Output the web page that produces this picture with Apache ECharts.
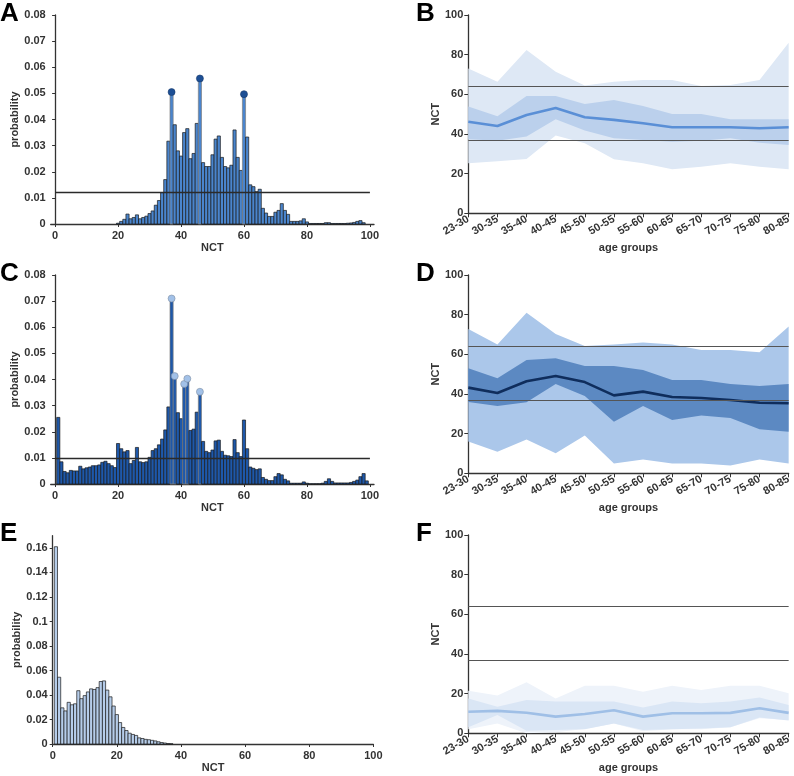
<!DOCTYPE html>
<html>
<head>
<meta charset="utf-8">
<script src="https://cdn.jsdelivr.net/npm/echarts@6/dist/echarts.min.js"></script>
<style>
html, body { margin: 0; padding: 0; background: #fff; }
#chart { width: 794px; height: 776px; }
</style>
</head>
<body>
<div id="chart"></div>
<script>
// NCT histogram bins 1..99
const nctBins = [
  1, 2, 3, 4, 5, 6, 7, 8, 9, 10, 11, 12, 13, 14, 15, 16, 17, 18, 19, 20,
  21, 22, 23, 24, 25, 26, 27, 28, 29, 30, 31, 32, 33, 34, 35, 36, 37, 38, 39, 40,
  41, 42, 43, 44, 45, 46, 47, 48, 49, 50, 51, 52, 53, 54, 55, 56, 57, 58, 59, 60,
  61, 62, 63, 64, 65, 66, 67, 68, 69, 70, 71, 72, 73, 74, 75, 76, 77, 78, 79, 80,
  81, 82, 83, 84, 85, 86, 87, 88, 89, 90, 91, 92, 93, 94, 95, 96, 97, 98, 99
];

// panel A
const histA = [
  0, 0, 0, 0, 0, 0, 0, 0, 0, 0, 0, 0, 0, 0, 0, 0, 0, 0, 0,
  0.0003, 0.001, 0.0018, 0.0038, 0.002, 0.0025, 0.0035, 0.002, 0.0025, 0.003,
  0.004, 0.005, 0.0072, 0.009, 0.012, 0.017, 0.0317, 0.0505, 0.038, 0.028,
  0.026, 0.035, 0.0365, 0.025, 0.027, 0.0385, 0.0557, 0.0235, 0.022, 0.022,
  0.0265, 0.0325, 0.0337, 0.0255, 0.022, 0.0215, 0.0225, 0.036, 0.0255, 0.0205,
  0.0497, 0.0333, 0.015, 0.0143, 0.0124, 0.0133, 0.006, 0.0042, 0.0029, 0.0029,
  0.0045, 0.0052, 0.0078, 0.0052, 0.0037, 0.001, 0.001, 0.001, 0.0012, 0.002,
  0.0008, 0.0002, 0.0002, 0.0002, 0.0002, 0.0002, 0.0005, 0.0005, 0.0002, 0.0002,
  0.0002, 0.0002, 0.0002, 0.0003, 0.0004, 0.0006, 0.001, 0.0013, 0.0005, 0
];
const peaksA = [37, 46, 60];
const levelA = 0.0123;

// panel C
const histC = [
  0.0255, 0.0085, 0.0048, 0.0043, 0.0052, 0.005, 0.005, 0.0068, 0.0058,
  0.0062, 0.0065, 0.007, 0.007, 0.0073, 0.0083, 0.0087, 0.0078, 0.007, 0.0063,
  0.0155, 0.0135, 0.0123, 0.0128, 0.0078, 0.009, 0.014, 0.0085, 0.0082, 0.0085,
  0.0102, 0.0128, 0.0135, 0.015, 0.0172, 0.0207, 0.0295, 0.071, 0.0413, 0.0273,
  0.025, 0.0383, 0.0403, 0.0205, 0.021, 0.0275, 0.0353, 0.0163, 0.0125, 0.012,
  0.013, 0.0165, 0.0168, 0.0125, 0.011, 0.0108, 0.0105, 0.017, 0.012, 0.0105,
  0.0245, 0.0135, 0.0065, 0.006, 0.0055, 0.0058, 0.0025, 0.0018, 0.0013, 0.0013,
  0.0028, 0.004, 0.0035, 0.0018, 0.0012, 0.0003, 0.0003, 0.0003, 0.0003, 0.0008,
  0.0003, 0.0001, 0.0001, 0.0001, 0.0001, 0.0003, 0.001, 0.002, 0.001, 0.0004,
  0.0004, 0.0004, 0.0004, 0.0004, 0.0006, 0.001, 0.0015, 0.0028, 0.004, 0.0012
];
const peaksC = [37, 38, 41, 42, 46];
const levelC = 0.01;

// panel E
const histE = [
  0.161, 0.0545, 0.0295, 0.027, 0.034, 0.032, 0.0328, 0.0435, 0.037,
  0.0395, 0.0425, 0.045, 0.0445, 0.046, 0.051, 0.0515, 0.044, 0.0385, 0.031,
  0.024, 0.0175, 0.0135, 0.011, 0.0088, 0.0078, 0.007, 0.005, 0.0045, 0.0038,
  0.0035, 0.003, 0.0025, 0.0018, 0.0012, 0.0008, 0.0004, 0.0002, 0, 0,
  0, 0, 0, 0, 0, 0, 0, 0, 0, 0,
  0, 0, 0, 0, 0, 0, 0, 0, 0, 0,
  0, 0, 0, 0, 0, 0, 0, 0, 0, 0,
  0, 0, 0, 0, 0, 0, 0, 0, 0, 0,
  0, 0, 0, 0, 0, 0, 0, 0, 0, 0,
  0, 0, 0, 0, 0, 0, 0, 0, 0, 0
];

const nctTicks = [0, 20, 40, 60, 80, 100];
const probTicksE = [0, 0.02, 0.04, 0.06, 0.08, 0.1, 0.12, 0.14, 0.16];

// age group panels
const ageGroups = ['23-30', '30-35', '35-40', '40-45', '45-50', '50-55', '55-60', '60-65', '65-70', '70-75', '75-80', '80-85'];
const refLines = [37, 64];

const bOuterHigh = [73, 66.4, 82.4, 71.4, 64.4, 66.4, 67.2, 67.2, 64.2, 64.7, 67.2, 86];
const bOuterLow = [25.2, 26.2, 27.4, 39.2, 35.3, 27.2, 25.2, 22.2, 23.5, 25.2, 23.5, 22.2];
const bInnerHigh = [53.8, 49, 59.2, 59.2, 55.1, 57.1, 54.1, 50.1, 50.1, 47.4, 47.4, 47.4];
const bInnerLow = [37.3, 36.6, 38.7, 47.4, 41.7, 37.8, 37, 36.1, 36.6, 37.8, 35.6, 34.5];
const bMedian = [46.2, 44, 49.6, 53.1, 48.4, 47.1, 45.4, 43.4, 43.4, 43.4, 42.9, 43.4];

const dOuterHigh = [72.8, 65, 81, 70.3, 64.2, 65, 66, 65, 62.2, 62.2, 61, 74];
const dOuterLow = [16, 10.9, 17.1, 10.1, 19, 5, 7, 5, 5, 3.9, 7, 5];
const dInnerHigh = [53, 47.9, 57.1, 58, 54.1, 54.1, 52.1, 47.1, 47.1, 45, 44, 45];
const dInnerLow = [36, 34, 35.8, 45, 39, 26, 34, 26.9, 29.1, 27.9, 22.2, 21];
const dMedian = [43.2, 40.5, 46.4, 49.1, 46, 39.3, 41.2, 38.5, 38, 37, 35.6, 35.3];

const fOuterHigh = [21.5, 19, 25.7, 17.6, 24, 24, 21, 24, 21.8, 24, 24, 20.2];
const fOuterLow = [2, 5, 0, 0.5, 2.2, 5, 1, 2, 2, 3, 7.6, 6.7];
const fInnerHigh = [17.6, 13.4, 16.8, 16, 16, 16, 13, 16, 15.1, 16, 18, 14.3];
const fInnerLow = [3, 9.2, 1.3, 1.7, 2, 5, 1.7, 2, 2.4, 3, 8, 6.4];
const fMedian = [10.9, 11.3, 10.4, 8.4, 9.7, 11.6, 8.4, 10.1, 10.1, 10.3, 12.6, 10.3];

const FONT = 'Liberation Sans';
const axisCol = '#333';
const labelStyle = { fontFamily: FONT, fontWeight: 'bold', fontSize: 11, color: '#333' };
const nameStyle = { fontFamily: FONT, fontWeight: 'bold', fontSize: 11, color: '#333' };

const grid = [], xAxis = [], yAxis = [], series = [];

function histPanel(box, data, cfg) {
  const gi = grid.length;
  grid.push(box);
  xAxis.push({
    gridIndex: gi, type: 'value', min: cfg.xMin, max: cfg.xMax,
    name: 'NCT', nameLocation: 'middle', nameGap: 18, nameTextStyle: nameStyle,
    axisLine: { lineStyle: { color: axisCol, width: 1.3 } },
    axisTick: { length: 3, lineStyle: { color: axisCol }, customValues: nctTicks },
    axisLabel: Object.assign({ margin: 6, customValues: nctTicks }, labelStyle),
    splitLine: { show: false }
  });
  const yA = {
    gridIndex: gi, type: 'value', min: 0, max: cfg.yMax,
    name: 'probability', nameLocation: 'middle', nameGap: 27, nameTextStyle: nameStyle,
    axisLine: { show: true, lineStyle: { color: axisCol, width: 1.3 } },
    axisTick: { show: true, length: 3, lineStyle: { color: axisCol } },
    axisLabel: Object.assign({ margin: 5 }, labelStyle),
    splitLine: { show: false }
  };
  if (cfg.yTicks) {
    yA.axisTick.customValues = cfg.yTicks;
    yA.axisLabel.customValues = cfg.yTicks;
  } else {
    yA.interval = cfg.yInterval;
  }
  yAxis.push(yA);
  const peaks = cfg.peaks || [];
  // one rect per bin, from bin-0.5 to bin+0.5 on the value axis
  series.push({
    type: 'custom', xAxisIndex: gi, yAxisIndex: gi, silent: true, animation: false,
    encode: { x: 0, y: 1 },
    data: nctBins.map((b, i) => [b, data[i], peaks.includes(b) ? 1 : 0]),
    renderItem: function (params, api) {
      const b = api.value(0), v = api.value(1);
      if (!v) return null;
      const p0 = api.coord([b - 0.5, v]);
      const p1 = api.coord([b + 0.5, 0]);
      return {
        type: 'rect',
        shape: { x: p0[0], y: p0[1], width: p1[0] - p0[0], height: p1[1] - p0[1] },
        style: { fill: cfg.color, stroke: api.value(2) ? '#808080' : '#1a1a1a', lineWidth: 0.7 }
      };
    },
    markLine: cfg.level == null ? undefined : {
      silent: true, symbol: 'none', label: { show: false },
      lineStyle: { color: '#2a2a2a', width: 1.4, type: 'solid' },
      data: [[{ coord: [0, cfg.level] }, { coord: [100, cfg.level] }]]
    }
  });
  if (peaks.length) {
    series.push({
      type: 'scatter', xAxisIndex: gi, yAxisIndex: gi, symbolSize: 7,
      itemStyle: { color: cfg.dotColor, borderColor: cfg.dotBorder, borderWidth: 0.6, opacity: 1 },
      data: peaks.map(p => [p, data[nctBins.indexOf(p)]]),
      silent: true, animation: false, z: 5
    });
  }
}

function bandPanel(box, outerLow, outerHigh, innerLow, innerHigh, median, col) {
  const gi = grid.length;
  grid.push(box);
  xAxis.push({
    gridIndex: gi, type: 'category', data: ageGroups, boundaryGap: false,
    name: 'age groups', nameLocation: 'middle', nameGap: 29, nameTextStyle: nameStyle,
    axisLine: { lineStyle: { color: axisCol, width: 1.3 } },
    axisTick: { length: 4, lineStyle: { color: axisCol } },
    axisLabel: Object.assign({ margin: 5, rotate: 30, interval: 0 }, labelStyle),
    splitLine: { show: false }
  });
  yAxis.push({
    gridIndex: gi, type: 'value', min: 0, max: 100, interval: 20,
    name: 'NCT', nameLocation: 'middle', nameGap: 22, nameTextStyle: nameStyle,
    axisLine: { show: true, lineStyle: { color: axisCol, width: 1.3 } },
    axisTick: { show: true, length: 4, lineStyle: { color: axisCol } },
    axisLabel: Object.assign({ margin: 5 }, labelStyle),
    splitLine: { show: false }
  });
  const base = { type: 'line', xAxisIndex: gi, yAxisIndex: gi, symbol: 'none', silent: true, animation: false };
  const stO = 'outer' + gi, stI = 'inner' + gi;
  series.push(Object.assign({}, base, { stack: stO, data: outerLow, lineStyle: { width: 0, opacity: 0 } }));
  series.push(Object.assign({}, base, {
    stack: stO, data: outerHigh.map((v, i) => +(v - outerLow[i]).toFixed(3)),
    lineStyle: { width: 0, opacity: 0 }, areaStyle: { color: col.outer, opacity: 1 }
  }));
  series.push(Object.assign({}, base, { stack: stI, data: innerLow, lineStyle: { width: 0, opacity: 0 } }));
  series.push(Object.assign({}, base, {
    stack: stI, data: innerHigh.map((v, i) => +(v - innerLow[i]).toFixed(3)),
    lineStyle: { width: 0, opacity: 0 }, areaStyle: { color: col.inner, opacity: 1 }
  }));
  series.push(Object.assign({}, base, {
    data: median, lineStyle: { color: col.line, width: 2.6 }, z: 4,
    markLine: {
      silent: true, symbol: 'none', label: { show: false },
      lineStyle: { color: '#555', width: 1.1, type: 'solid' },
      data: refLines.map(v => ({ yAxis: v }))
    }
  }));
}

histPanel({ left: 50.7, top: 15, width: 323.3, height: 209 }, histA, {
  xMin: -1.4, xMax: 101.3, yMax: 0.08, yInterval: 0.01,
  color: '#4a85cd', peaks: peaksA, dotColor: '#1d4f95', dotBorder: '#16396b', level: levelA
});
bandPanel({ left: 468.3, top: 15, width: 322, height: 198.3 }, bOuterLow, bOuterHigh, bInnerLow, bInnerHigh, bMedian,
  { outer: '#dee8f5', inner: '#bbd0ec', line: '#5a8fd6' });
histPanel({ left: 50.7, top: 275, width: 323.3, height: 209 }, histC, {
  xMin: -1.4, xMax: 101.3, yMax: 0.08, yInterval: 0.01,
  color: '#1e58aa', peaks: peaksC, dotColor: '#a2c1e8', dotBorder: '#7f8fa3', level: levelC
});
bandPanel({ left: 468.3, top: 275, width: 322, height: 198.3 }, dOuterLow, dOuterHigh, dInnerLow, dInnerHigh, dMedian,
  { outer: '#abc7ea', inner: '#5c89c2', line: '#0f2d5c' });
histPanel({ left: 52.7, top: 535.7, width: 320.7, height: 208.3 }, histE, {
  xMin: 0, xMax: 100, yMax: 0.17, yTicks: probTicksE,
  color: '#b6cdea'
});
bandPanel({ left: 468.3, top: 535, width: 322, height: 198.3 }, fOuterLow, fOuterHigh, fInnerLow, fInnerHigh, fMedian,
  { outer: '#eef3fa', inner: '#dae6f5', line: '#9fbfe6' });

const letters = [['A', 0, 0], ['B', 416, 0], ['C', 0, 260], ['D', 416, 260], ['E', 0, 520], ['F', 416, 520]];

const chart = echarts.init(document.getElementById('chart'), null, { renderer: 'canvas' });
chart.setOption({
  animation: false,
  backgroundColor: '#fff',
  grid: grid,
  xAxis: xAxis,
  yAxis: yAxis,
  series: series,
  graphic: letters.map(l => ({
    type: 'text', left: l[1], top: l[2] + 1,
    style: { text: l[0], fontFamily: FONT, fontWeight: 'bold', fontSize: 26, fill: '#000' }
  }))
});
</script>
</body>
</html>
